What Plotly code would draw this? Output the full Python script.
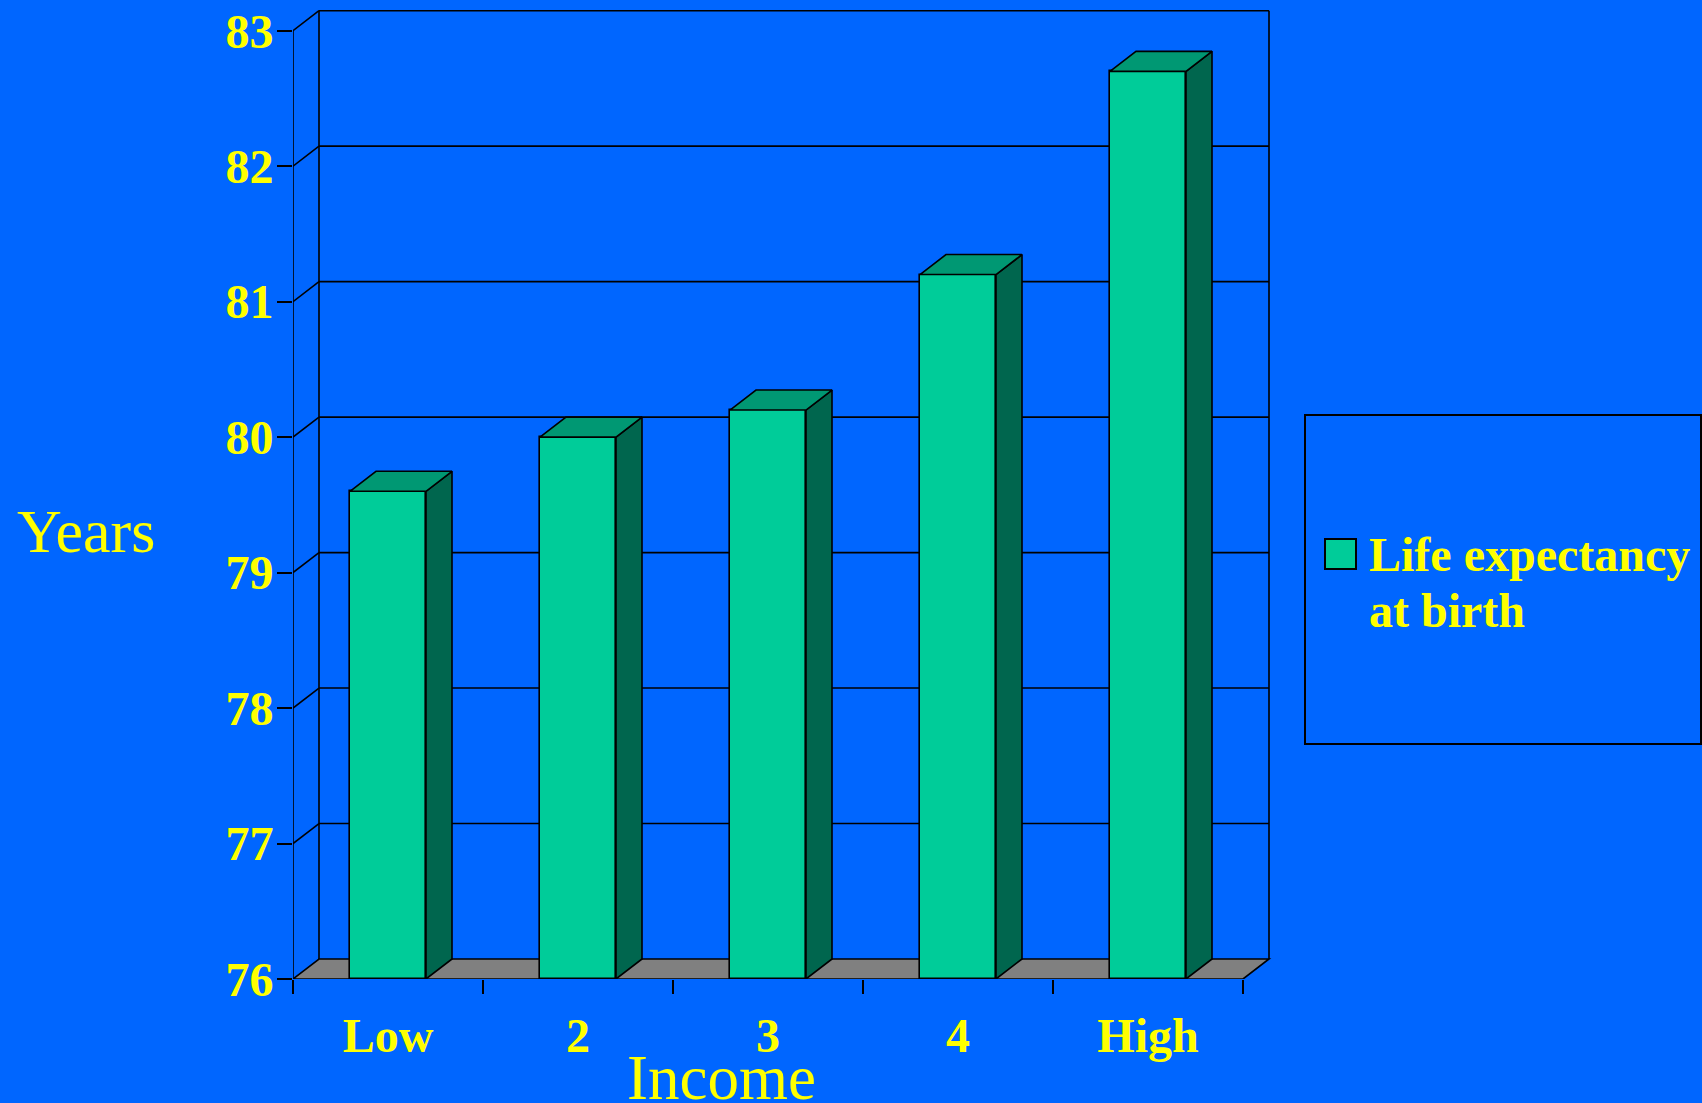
import plotly.graph_objects as go

# ---- data ----
categories = ["Low", "2", "3", "4", "High"]
life_expectancy = [79.6, 80.0, 80.2, 81.2, 82.7]
y_ticks = [76, 77, 78, 79, 80, 81, 82, 83]
series_name = "Life expectancy at birth"

# ---- style / geometry ----
W, H = 1702, 1103
L, R, T, B = 293, 1279, 4, 979          # plot area in pixels
PX_PER_CAT = 190.0
PX_PER_YEAR = (979 - 30.7) / 7.0
DEPTH_X_PX, DEPTH_Y_PX = 26.0, 20.0
BAR_W = 0.4

BG = "#0066FF"
FRONT = "#00CC99"
TOP = "#009873"
SIDE = "#00664E"
FLOOR = "#808080"
YEL = "#FFFF00"
SERIF = "Liberation Serif, Times New Roman, serif"
LW = 1.6

ymin = y_ticks[0]
ymax_tick = y_ticks[-1]
x_lo = -0.5
x_hi = x_lo + (R - L) / PX_PER_CAT
y_hi = ymin + (B - T) / PX_PER_YEAR
dx = DEPTH_X_PX / PX_PER_CAT
dy = DEPTH_Y_PX / PX_PER_YEAR
n = len(categories)
x_left, x_right = -0.5, n - 0.5


def px_x(p):
    return (p - L) / (R - L)


def px_y(p):
    return (B - p) / (B - T)


fig = go.Figure()

# front faces of bars
fig.add_trace(go.Bar(
    x=list(range(n)), y=[v - ymin for v in life_expectancy], base=ymin,
    width=BAR_W, marker=dict(color=FRONT, line=dict(color="black", width=LW)),
    name=series_name, showlegend=False, hoverinfo="skip",
))

# side faces and top faces
sx, sy, tx, ty = [], [], [], []
for i, v in enumerate(life_expectancy):
    r_edge = i + BAR_W / 2
    l_edge = i - BAR_W / 2
    sx += [r_edge, r_edge, r_edge + dx, r_edge + dx, r_edge, None]
    sy += [ymin, v, v + dy, ymin + dy, ymin, None]
    tx += [l_edge, r_edge, r_edge + dx, l_edge + dx, l_edge, None]
    ty += [v, v, v + dy, v + dy, v, None]

fig.add_trace(go.Scatter(x=sx, y=sy, mode="lines", fill="toself", fillcolor=SIDE,
                         line=dict(color="black", width=LW), showlegend=False,
                         hoverinfo="skip", cliponaxis=False))
fig.add_trace(go.Scatter(x=tx, y=ty, mode="lines", fill="toself", fillcolor=TOP,
                         line=dict(color="black", width=LW), showlegend=False,
                         hoverinfo="skip", cliponaxis=False))

shapes = []
# floor
shapes.append(dict(type="path", layer="below", xref="x", yref="y",
                   path=f"M{x_left},{ymin} L{x_right},{ymin} L{x_right+dx},{ymin+dy} L{x_left+dx},{ymin+dy} Z",
                   fillcolor=FLOOR, line=dict(color="black", width=LW)))
# back-wall gridlines + side diagonals
for t in y_ticks:
    if t == ymin:
        continue
    shapes.append(dict(type="line", layer="below", xref="x", yref="y",
                       x0=x_left + dx, x1=x_right + dx, y0=t + dy, y1=t + dy,
                       line=dict(color="black", width=LW)))
    shapes.append(dict(type="line", layer="below", xref="x", yref="y",
                       x0=x_left, x1=x_left + dx, y0=t, y1=t + dy,
                       line=dict(color="black", width=LW)))
# wall verticals
shapes.append(dict(type="line", layer="below", xref="x", yref="y",
                   x0=x_left, x1=x_left, y0=ymin, y1=ymax_tick,
                   line=dict(color="black", width=LW)))
shapes.append(dict(type="line", layer="below", xref="x", yref="y",
                   x0=x_left + dx, x1=x_left + dx, y0=ymin + dy, y1=ymax_tick + dy,
                   line=dict(color="black", width=LW)))
shapes.append(dict(type="line", layer="below", xref="x", yref="y",
                   x0=x_right + dx, x1=x_right + dx, y0=ymin + dy, y1=ymax_tick + dy,
                   line=dict(color="black", width=LW)))

# legend box
shapes.append(dict(type="rect", xref="paper", yref="paper",
                   x0=px_x(1305), x1=px_x(1701), y0=px_y(744), y1=px_y(415),
                   line=dict(color="black", width=2), fillcolor="rgba(0,0,0,0)"))
shapes.append(dict(type="rect", xref="paper", yref="paper",
                   x0=px_x(1325), x1=px_x(1356), y0=px_y(569), y1=px_y(539),
                   line=dict(color="black", width=2), fillcolor=FRONT))

annotations = [
    dict(text="Years", xref="paper", yref="paper", x=px_x(86), y=px_y(531),
         xanchor="center", yanchor="middle", showarrow=False,
         font=dict(family=SERIF, size=62, color=YEL)),
    dict(text="Income", xref="paper", yref="paper", x=px_x(721), y=px_y(1078),
         xanchor="center", yanchor="middle", showarrow=False,
         font=dict(family=SERIF, size=63, color=YEL)),
    dict(text="Life expectancy", xref="paper", yref="paper", x=px_x(1367), y=px_y(554),
         xanchor="left", yanchor="middle", showarrow=False,
         font=dict(family=SERIF, size=48, color=YEL, weight="bold")),
    dict(text="at birth", xref="paper", yref="paper", x=px_x(1367), y=px_y(610),
         xanchor="left", yanchor="middle", showarrow=False,
         font=dict(family=SERIF, size=48, color=YEL, weight="bold")),
]

fig.update_layout(
    width=W, height=H, autosize=False,
    margin=dict(l=L, r=W - R, t=T, b=H - B, pad=0),
    paper_bgcolor=BG, plot_bgcolor=BG,
    showlegend=False, bargap=0,
    shapes=shapes, annotations=annotations,
    xaxis=dict(range=[x_lo, x_hi], tickmode="array", tickvals=list(range(n)),
               ticktext=categories, ticks="", showgrid=False, zeroline=False,
               showline=False, fixedrange=True,
               tickfont=dict(family=SERIF, size=48, color=YEL, weight="bold"),
               ticklabelstandoff=24,
               minor=dict(tickmode="array",
                          tickvals=[k - 0.5 for k in range(n + 1)],
                          ticks="outside", ticklen=14, tickwidth=LW,
                          tickcolor="black", showgrid=False)),
    yaxis=dict(range=[ymin, y_hi], tickmode="array", tickvals=y_ticks,
               ticktext=[str(t) for t in y_ticks], ticks="outside", ticklen=15,
               tickwidth=LW, tickcolor="black", showgrid=False, zeroline=False,
               showline=False, fixedrange=True, ticklabelstandoff=-6,
               tickfont=dict(family=SERIF, size=48, color=YEL, weight="bold")),
)

fig.write_html("out.html", config={"displayModeBar": False})
